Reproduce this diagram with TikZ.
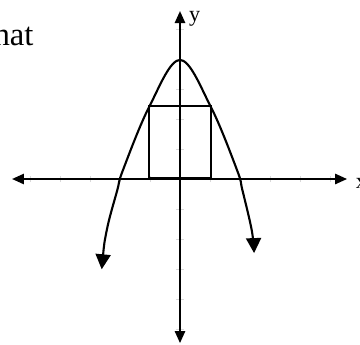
\documentclass[tikz,border=0pt]{standalone}
\usepackage{fontspec}
\setmainfont{Liberation Serif}
\usetikzlibrary{arrows.meta}

\begin{document}
\begin{tikzpicture}[line width=2pt,
    axisarrow/.style={{Triangle[length=0.4cm,width=0.34cm]}-{Triangle[length=0.4cm,width=0.34cm]}},
    curvearrow/.style={{Triangle[length=0.5cm,width=0.5cm]}-{Triangle[length=0.5cm,width=0.5cm]}},
    tickmark/.style={line width=0.6pt, gray!30}]
    \useasboundingbox (-6,-5.533) rectangle (6,5.967);

    % Faint tick marks on both axes
    \foreach \k in {-5,...,-1,1,2,...,5} {
        \draw[tickmark] (\k,-0.1) -- (\k,0.1);
        \draw[tickmark] (-0.12,\k) -- (0.12,\k);
    }

    % Draw axes
    \coordinate (xl) at (-5.6,0);
    \coordinate (xr) at (5.57,0);
    \coordinate (yb) at (0,-5.47);
    \coordinate (yt) at (0,5.6);
    \draw[axisarrow] (xl) -- (xr);
    \draw[axisarrow] (yb) -- (yt);
    \node[anchor=base west, font=\fontsize{21}{21}\selectfont, inner sep=0pt] (xlab) at (5.83,-0.3) {x};
    \node[anchor=base west, font=\fontsize{21}{21}\selectfont, inner sep=0pt] (ylab) at (0.27,5.25) {y};

    % Draw the curve through the vertex
    \draw[curvearrow] plot[smooth, tension=0.6] coordinates {
        (-2.61,-3.01) (-2.44,-1.7) (-2.09,-0.37) (-1.9,0.3) (-1.02,2.42) (0,3.97)
        (1.02,2.42) (1.9,0.3) (2.08,-0.37) (2.39,-1.7) (2.47,-2.47)};

    % Inscribed rectangle
    \draw (-1.02,0.03) rectangle (1.02,2.42);

    % Cut-off text at the top left
    \node[anchor=base west, font=\fontsize{31}{31}\selectfont, inner sep=0pt] (word) at (-6.25,4.44) {hat};
\end{tikzpicture}
\end{document}
